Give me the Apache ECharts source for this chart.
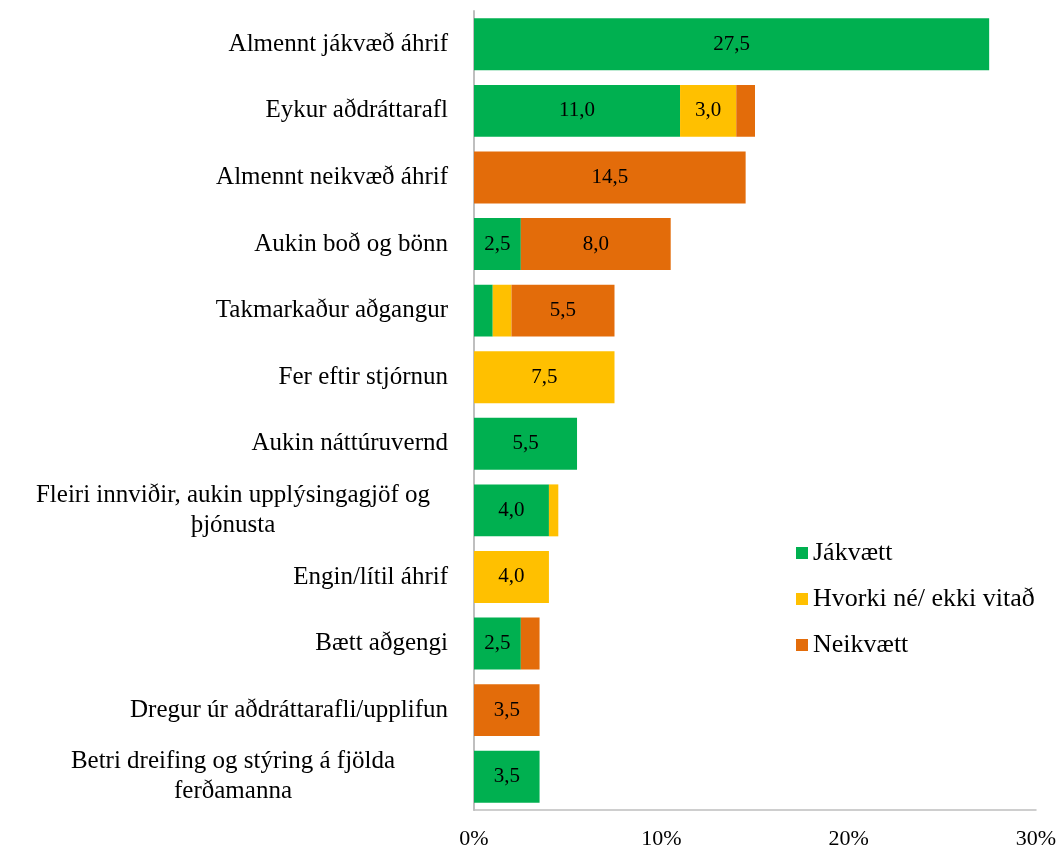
<!DOCTYPE html>
<html>
<head>
<meta charset="utf-8">
<script src="https://cdn.jsdelivr.net/npm/echarts@6/dist/echarts.min.js"></script>
<style>
    html, body { margin: 0; padding: 0; background: #fff; }
    #chart { width: 1063px; height: 850px; }
</style>
</head>
<body>
<div id="chart"></div>
<script>
// categories, top to bottom
const categories = [
    'Almennt jákvæð áhrif',
    'Eykur aðdráttarafl',
    'Almennt neikvæð áhrif',
    'Aukin boð og bönn',
    'Takmarkaður aðgangur',
    'Fer eftir stjórnun',
    'Aukin náttúruvernd',
    'Fleiri innviðir, aukin upplýsingagjöf og\nþjónusta',
    'Engin/lítil áhrif',
    'Bætt aðgengi',
    'Dregur úr aðdráttarafli/upplifun',
    'Betri dreifing og stýring á fjölda\nferðamanna'
];
const jakvaett = [27.5, 11.0, 0, 2.5, 1.0, 0, 5.5, 4.0, 0, 2.5, 0, 3.5];
const hvorki = [0, 3.0, 0, 0, 1.0, 7.5, 0, 0.5, 4.0, 0, 0, 0];
const neikvaett = [0, 1.0, 14.5, 8.0, 5.5, 0, 0, 0, 0, 1.0, 3.5, 0];
const xTicks = [0, 10, 20, 30];

const serif = '"Liberation Serif", "DejaVu Serif", serif';

function makeSeries(name, data, color) {
    return {
        name: name,
        type: 'bar',
        stack: 'total',
        data: data,
        barCategoryGap: '22%',
        itemStyle: { color: color },
        label: {
            show: true,
            position: 'inside',
            color: '#000',
            fontFamily: serif,
            fontSize: 21,
            formatter: function (p) {
                return p.value >= 2 ? p.value.toFixed(1).replace('.', ',') : '';
            }
        }
    };
}

let chart = echarts.init(document.getElementById('chart'));
let option = {
    animation: false,
    textStyle: { fontFamily: serif },
    grid: {
        left: 474,
        right: 27,
        top: 11,
        bottom: 37
    },
    legend: {
        orient: 'vertical',
        left: 791,
        top: 535,
        itemWidth: 12,
        itemHeight: 12,
        itemGap: 20,
        icon: 'rect',
        textStyle: { fontFamily: serif, fontSize: 26, lineHeight: 26, color: '#000' },
        data: ['Jákvætt', 'Hvorki né/ ekki vitað', 'Neikvætt']
    },
    xAxis: {
        type: 'value',
        min: 0,
        max: 30,
        interval: 10,
        axisLine: { show: true, lineStyle: { color: '#bfbfbf', width: 1.5 } },
        axisTick: { show: false },
        splitLine: { show: false },
        axisLabel: {
            margin: 18,
            fontFamily: serif,
            fontSize: 22,
            color: '#000',
            formatter: function (v) { return xTicks.indexOf(v) >= 0 ? v + '%' : ''; }
        }
    },
    yAxis: {
        type: 'category',
        inverse: true,
        data: categories,
        axisLine: { show: true, lineStyle: { color: '#bfbfbf', width: 2 } },
        axisTick: { show: false },
        axisLabel: {
            margin: 26,
            color: '#000',
            fontFamily: serif,
            fontSize: 25,
            lineHeight: 30,
            formatter: function (v) {
                if (v.indexOf('\n') < 0) return v;
                return v.split('\n').map(function (s) { return '{c|' + s + '}'; }).join('\n');
            },
            rich: {
                c: {
                    width: 430,
                    align: 'center',
                    fontFamily: serif,
                    fontSize: 25,
                    lineHeight: 30,
                    color: '#000'
                }
            }
        }
    },
    series: [
        makeSeries('Jákvætt', jakvaett, '#00b050'),
        makeSeries('Hvorki né/ ekki vitað', hvorki, '#ffc000'),
        makeSeries('Neikvætt', neikvaett, '#e36c0a')
    ]
};
chart.setOption(option);
</script>
</body>
</html>
